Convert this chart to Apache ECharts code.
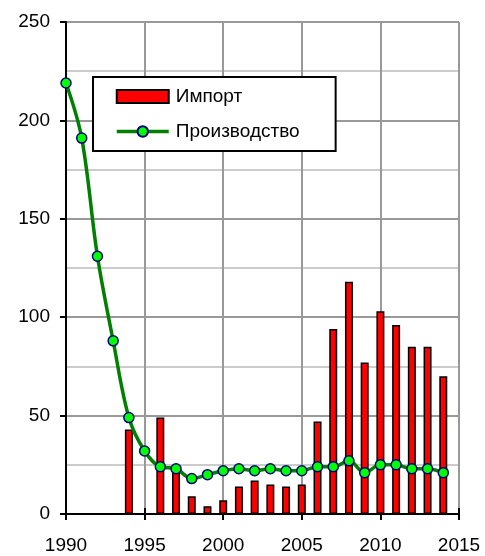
<!DOCTYPE html>
<html>
<head>
<meta charset="utf-8">
<script src="https://cdn.jsdelivr.net/npm/echarts@6/dist/echarts.min.js"></script>
<style>
  html, body { margin: 0; padding: 0; background: #fff; }
  #chart { width: 485px; height: 556px; }
</style>
</head>
<body>
<div id="chart"></div>
<script>
const years = [1990, 1991, 1992, 1993, 1994, 1995, 1996, 1997, 1998, 1999, 2000, 2001,
  2002, 2003, 2004, 2005, 2006, 2007, 2008, 2009, 2010, 2011, 2012, 2013, 2014]
const importVals = [null, null, null, null, 43, null, 49, 22, 9, 4, 7, 14,
  17, 15, 14, 15, 47, 94, 118, 77, 103, 96, 85, 85, 70]
const productionVals = [219, 191, 131, 88, 49, 32, 24, 23, 18, 20, 22, 23,
  22, 23, 22, 22, 24, 24, 27, 21, 25, 25, 23, 23, 21]
const xTicks = [1990, 1995, 2000, 2005, 2010, 2015]

let myChart = echarts.init(document.getElementById('chart'))

const font = 'Liberation Sans, Arial, sans-serif'

myChart.setOption({
  animation: false,
  grid: { left: 66, right: 26, top: 22, bottom: 42 },
  legend: {
    orient: 'vertical',
    left: 93,
    top: 77,
    padding: [10, 36, 10, 22],
    itemWidth: 52,
    itemHeight: 13,
    itemGap: 16,
    backgroundColor: '#fff',
    borderColor: '#000',
    borderWidth: 2,
    textStyle: { fontFamily: font, fontSize: 19, color: '#000', padding: [0, 0, 0, 2] },
    data: [
      { name: 'Импорт', icon: 'rect', itemStyle: { borderWidth: 2 } },
      { name: 'Производство', lineStyle: { width: 3.5, color: '#007f00' } }
    ]
  },
  xAxis: [
    {
      type: 'value',
      min: xTicks[0],
      max: xTicks[xTicks.length - 1],
      interval: 5,
      axisLine: { onZero: false, lineStyle: { color: '#000', width: 2 } },
      axisTick: { length: 6, lineStyle: { color: '#000', width: 2 } },
      axisLabel: { fontFamily: font, fontSize: 19, color: '#000', margin: 22, formatter: v => String(v) },
      splitLine: { show: true, lineStyle: { color: '#999', width: 2 } }
    },
    {
      type: 'value',
      position: 'bottom',
      min: xTicks[0],
      max: xTicks[xTicks.length - 1],
      interval: 5,
      axisLine: { show: false },
      axisTick: { show: true, inside: true, length: 6, lineStyle: { color: '#000', width: 2 } },
      axisLabel: { show: false },
      splitLine: { show: false }
    }
  ],
  yAxis: {
    type: 'value',
    min: 0,
    max: 250,
    interval: 50,
    axisLine: { show: true, lineStyle: { color: '#000', width: 2 } },
    axisTick: { show: true, length: 6, lineStyle: { color: '#000', width: 2 } },
    axisLabel: { fontFamily: font, fontSize: 19, color: '#000', margin: 16 },
    splitLine: { show: true, lineStyle: { color: '#999', width: 2 } },
    minorTick: { show: false, splitNumber: 2 },
    minorSplitLine: { show: true, lineStyle: { color: '#ccc', width: 2 } }
  },
  series: [
    {
      name: 'Импорт',
      type: 'bar',
      barWidth: 8,
      itemStyle: { color: '#ff0000', borderColor: '#000', borderWidth: 1.5 },
      data: years.map((y, i) => [y, importVals[i]]).filter(d => d[1] != null),
      z: 2
    },
    {
      name: 'Производство',
      type: 'line',
      smooth: 0.35,
      symbol: 'circle',
      symbolSize: 10,
      lineStyle: { color: '#007f00', width: 3.5 },
      itemStyle: { color: '#00ff00', borderColor: '#000080', borderWidth: 1.5 },
      data: years.map((y, i) => [y, productionVals[i]]),
      z: 3
    }
  ]
})
</script>
</body>
</html>
